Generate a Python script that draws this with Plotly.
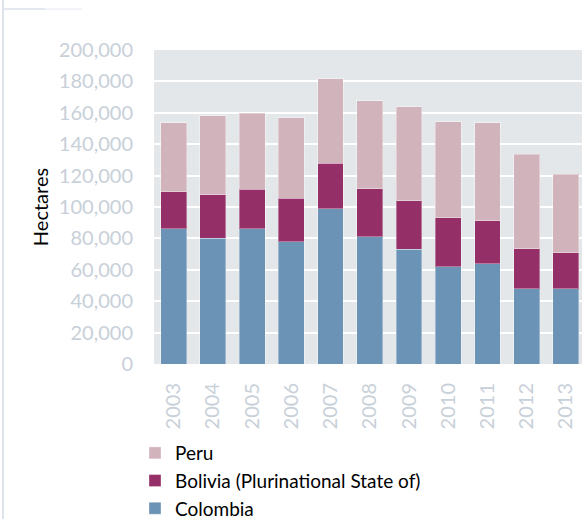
import plotly.graph_objects as go

years = [2003, 2004, 2005, 2006, 2007, 2008, 2009, 2010, 2011, 2012, 2013]
colombia = [86000, 80000, 86000, 78000, 99000, 81000, 73000, 62000, 64000, 48000, 48000]
bolivia = [23600, 27700, 25400, 27500, 28900, 30500, 30900, 31000, 27200, 25300, 23000]
peru = [44200, 50300, 48200, 51400, 53700, 56100, 59900, 61200, 62500, 60400, 49800]
y_ticks = list(range(0, 200001, 20000))

tick_color = "#c8d0d9"
font_family = "Lato, 'Open Sans', sans-serif"

L, R, T, B, W, H = 154, 0, 50, 155, 582, 519
pw, ph = W - L - R, H - T - B


def px(x):
    return (x - L) / pw


def py(y):
    return (H - B - y) / ph


fig = go.Figure()
for name, vals, col in [("Colombia", colombia, "#6b93b5"),
                        ("Bolivia (Plurinational State of)", bolivia, "#952f67"),
                        ("Peru", peru, "#d1b3bb")]:
    fig.add_trace(go.Bar(
        x=years, y=vals, name=name, width=0.66,
        marker=dict(color=col, line=dict(color="rgba(255,255,255,0.35)", width=1)),
    ))

fig.update_layout(
    width=W, height=H,
    margin=dict(l=L, r=R, t=T, b=B, autoexpand=False),
    barmode="stack",
    paper_bgcolor="white",
    plot_bgcolor="#e4e7ea",
    font=dict(family=font_family, size=20, color="black"),
    showlegend=True,
    legend=dict(
        traceorder="reversed", orientation="v",
        x=px(135), xanchor="left", y=py(434), yanchor="top",
        font=dict(size=19, color="black"),
        itemwidth=30, tracegroupgap=0,
        bgcolor="rgba(0,0,0,0)",
    ),
    xaxis=dict(
        range=[2002.5, 2013.41], automargin=False,
        tickmode="array", tickvals=years, ticktext=[str(y) for y in years],
        tickangle=-90, showgrid=False, zeroline=False, showline=False,
        tickfont=dict(size=20, color=tick_color), ticks="",
        ticklabelstandoff=14,
    ),
    yaxis=dict(
        range=[0, 200000], tickmode="array", tickvals=y_ticks, automargin=False,
        ticktext=[f"{v:,}" for v in y_ticks],
        showgrid=True, gridcolor="white", gridwidth=2,
        zeroline=False, showline=False, ticks="",
        tickfont=dict(size=20, color=tick_color),
        ticklabelstandoff=20,
        title=dict(text="Hectares", font=dict(size=20, color="black"), standoff=4),
    ),
    shapes=[
        dict(type="line", xref="paper", yref="paper", x0=px(3), x1=px(3), y0=py(519), y1=py(0),
             line=dict(color="#dde3ea", width=2)),
        dict(type="line", xref="paper", yref="paper", x0=px(3), x1=px(45), y0=py(9), y1=py(9),
             line=dict(color="#e3e8ee", width=2)),
        dict(type="line", xref="paper", yref="paper", x0=px(45), x1=px(82), y0=py(9), y1=py(9),
             line=dict(color="#f2f4f7", width=2)),
    ],
)

fig.write_html(
    "out.html",
    config={"displayModeBar": False},
    post_script="document.body.style.margin='0';document.body.style.overflow='hidden';",
)
